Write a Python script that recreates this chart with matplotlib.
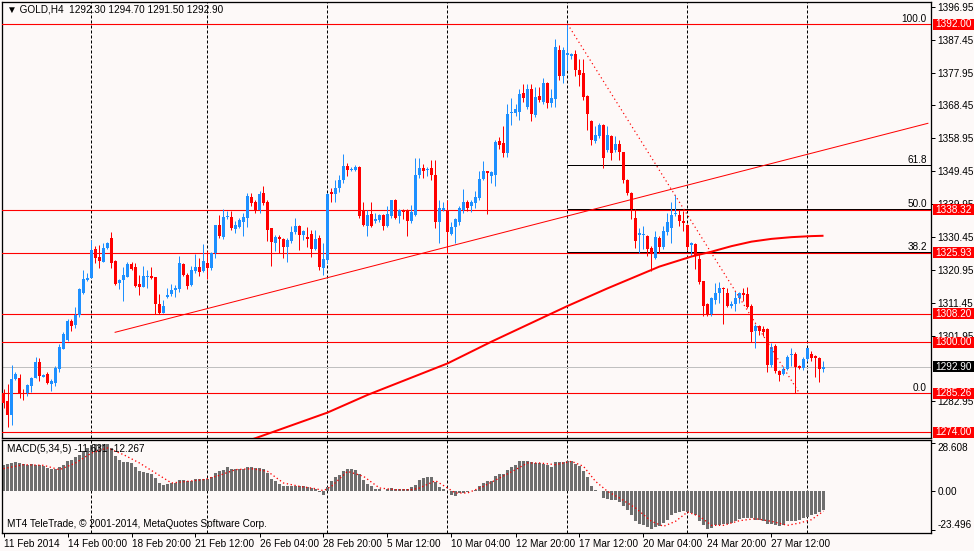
#!/usr/bin/env python3
"""GOLD H4 candles with support lines, fibo levels and MACD(5,34,5) panel (MT4 look)."""

import matplotlib

matplotlib.use("Agg")
import matplotlib.pyplot as plt
import numpy as np
from matplotlib.patches import Rectangle
from matplotlib.transforms import blended_transform_factory

plt.rcParams["font.family"] = ["Liberation Sans", "DejaVu Sans"]

# --- candles (H4 bars, oldest first) ---
opens = [
    1285.5, 1282.9, 1279.0, 1289.3, 1289.6, 1285.5, 1285.3, 1287.4, 1289.8, 1294.3,
    1290.1, 1290.9, 1288.0, 1288.3, 1292.4, 1298.2, 1300.7, 1306.2, 1305.1, 1307.9,
    1314.3, 1318.0, 1318.7, 1326.9, 1324.6, 1323.3, 1327.3, 1330.1, 1323.4, 1317.2,
    1317.9, 1318.9, 1322.6, 1321.7, 1316.8, 1316.1, 1319.0, 1319.1, 1318.9, 1311.2,
    1308.6, 1313.1, 1314.0, 1315.0, 1315.5, 1322.5, 1319.6, 1316.6, 1320.6, 1321.7,
    1320.6, 1323.0, 1321.6, 1325.9, 1333.9, 1330.5, 1336.1, 1336.3, 1332.8, 1333.4,
    1334.7, 1335.8, 1342.0, 1340.5, 1338.2, 1343.2, 1340.5, 1332.9, 1328.6, 1330.3,
    1330.0, 1327.5, 1329.2, 1331.8, 1333.7, 1331.1, 1330.4, 1331.4, 1327.0, 1330.1,
    1321.6, 1323.8, 1343.4, 1343.0, 1344.5, 1347.0, 1351.0, 1349.7, 1349.7, 1350.8,
    1338.1, 1333.7, 1337.2, 1335.0, 1335.3, 1336.9, 1333.5, 1336.6, 1341.2, 1336.4,
    1338.3, 1338.3, 1335.0, 1336.9, 1348.4, 1350.3, 1349.7, 1350.3, 1348.4, 1334.7,
    1338.2, 1338.2, 1331.4, 1333.4, 1334.7, 1338.3, 1340.7, 1339.3, 1340.3, 1341.7,
    1347.2, 1349.4, 1348.1, 1348.4, 1358.2, 1357.6, 1354.7, 1366.2, 1366.4, 1366.7,
    1372.2, 1367.9, 1373.1, 1365.7, 1371.2, 1369.6, 1375.0, 1369.3, 1370.2, 1384.4,
    1376.9, 1383.0, 1382.7, 1383.3, 1378.7, 1377.7, 1371.2, 1364.1, 1358.3, 1359.7,
    1362.9, 1355.6, 1359.7, 1355.5, 1357.4, 1354.9, 1347.0, 1343.2, 1336.0, 1330.9,
    1330.9, 1330.7, 1327.3, 1324.5, 1330.2, 1327.6, 1331.9, 1333.1, 1337.0, 1336.7,
    1335.0, 1333.8, 1328.1, 1328.3, 1324.0, 1317.8, 1311.0, 1308.2, 1312.3, 1314.2,
    1315.8, 1314.2, 1310.6, 1311.1, 1312.7, 1314.4, 1313.9, 1310.6, 1303.4, 1304.8,
    1303.8, 1303.8, 1293.5, 1298.9, 1291.6, 1290.9, 1292.3, 1296.2, 1296.7, 1293.3,
    1292.5, 1295.2, 1296.7, 1296.0, 1295.4, 1292.3,
]
highs = [
    1286.5, 1288.0, 1293.5, 1291.5, 1290.9, 1286.5, 1288.0, 1290.1, 1295.9, 1295.5,
    1290.8, 1291.4, 1289.3, 1293.3, 1299.4, 1302.9, 1306.6, 1306.7, 1310.3, 1315.6,
    1320.9, 1319.9, 1329.5, 1327.8, 1328.1, 1328.6, 1328.9, 1331.8, 1323.8, 1318.2,
    1321.8, 1323.3, 1323.1, 1323.0, 1319.4, 1322.0, 1320.9, 1321.8, 1319.0, 1314.0,
    1312.2, 1315.6, 1317.0, 1316.5, 1324.9, 1322.8, 1320.1, 1322.2, 1325.4, 1324.4,
    1328.3, 1326.3, 1326.1, 1334.0, 1336.9, 1338.5, 1338.1, 1337.9, 1335.0, 1336.0,
    1337.4, 1343.3, 1343.1, 1341.2, 1343.6, 1345.3, 1341.2, 1333.1, 1331.1, 1331.1,
    1330.2, 1330.2, 1333.7, 1336.0, 1334.0, 1332.6, 1333.4, 1332.4, 1332.6, 1331.1,
    1328.6, 1343.3, 1344.6, 1347.0, 1348.5, 1354.5, 1351.8, 1350.8, 1351.3, 1351.0,
    1340.5, 1338.3, 1340.5, 1337.4, 1337.2, 1337.2, 1339.5, 1341.2, 1341.4, 1338.5,
    1338.5, 1338.5, 1339.8, 1353.2, 1353.2, 1351.6, 1350.8, 1352.7, 1352.7, 1341.2,
    1340.5, 1341.2, 1334.7, 1336.0, 1339.5, 1344.3, 1341.0, 1341.2, 1343.6, 1349.4,
    1352.5, 1349.6, 1349.4, 1358.5, 1359.3, 1362.4, 1368.9, 1370.5, 1368.9, 1373.1,
    1374.7, 1374.7, 1374.7, 1373.9, 1373.9, 1376.3, 1375.3, 1373.1, 1387.8, 1385.9,
    1385.4, 1392.0, 1383.7, 1384.4, 1381.8, 1381.8, 1371.5, 1364.3, 1362.4, 1363.3,
    1363.1, 1362.4, 1360.0, 1359.7, 1358.5, 1355.1, 1347.2, 1343.4, 1338.4, 1333.1,
    1333.6, 1330.9, 1327.8, 1332.2, 1330.7, 1333.6, 1337.4, 1340.5, 1342.7, 1338.2,
    1337.9, 1334.1, 1329.0, 1328.6, 1325.4, 1317.8, 1311.5, 1313.0, 1317.1, 1317.3,
    1316.0, 1315.8, 1312.0, 1314.9, 1314.6, 1315.8, 1316.1, 1311.0, 1305.3, 1305.0,
    1304.8, 1304.0, 1299.8, 1299.5, 1291.9, 1293.3, 1296.2, 1298.3, 1297.1, 1293.5,
    1295.7, 1298.3, 1297.6, 1296.2, 1295.7, 1294.7,
]
lows = [
    1281.0, 1275.5, 1276.2, 1289.1, 1283.9, 1283.4, 1284.6, 1285.7, 1289.6, 1288.9,
    1289.9, 1287.9, 1285.8, 1287.5, 1291.5, 1298.0, 1300.5, 1303.4, 1304.1, 1307.4,
    1314.1, 1317.8, 1318.5, 1322.8, 1321.4, 1323.1, 1327.1, 1321.4, 1316.5, 1315.4,
    1312.0, 1318.8, 1320.9, 1316.1, 1313.7, 1315.9, 1315.6, 1318.4, 1308.1, 1308.1,
    1308.4, 1312.9, 1313.5, 1313.0, 1314.5, 1319.2, 1315.5, 1316.3, 1320.1, 1319.2,
    1320.3, 1318.2, 1321.0, 1324.4, 1330.2, 1330.0, 1335.5, 1332.6, 1331.6, 1333.1,
    1330.7, 1333.4, 1339.5, 1337.4, 1337.4, 1339.8, 1329.2, 1322.0, 1326.4, 1325.9,
    1324.4, 1323.2, 1328.7, 1331.4, 1326.6, 1329.7, 1327.6, 1324.7, 1326.6, 1320.9,
    1319.6, 1323.0, 1340.7, 1340.7, 1343.5, 1346.0, 1348.1, 1349.5, 1349.4, 1335.8,
    1333.5, 1330.7, 1333.4, 1334.5, 1334.7, 1332.4, 1333.4, 1336.0, 1335.5, 1334.5,
    1335.7, 1330.7, 1334.5, 1336.6, 1347.5, 1347.5, 1348.0, 1347.0, 1333.0, 1328.8,
    1337.9, 1325.9, 1331.0, 1328.8, 1334.0, 1337.5, 1337.9, 1337.6, 1338.8, 1341.0,
    1346.8, 1337.2, 1346.0, 1345.1, 1356.0, 1353.7, 1353.5, 1362.9, 1365.5, 1364.3,
    1369.6, 1367.5, 1364.1, 1365.0, 1369.6, 1369.0, 1367.7, 1367.9, 1367.9, 1375.8,
    1375.0, 1378.7, 1382.0, 1377.0, 1374.1, 1370.0, 1361.4, 1357.1, 1357.6, 1359.0,
    1350.4, 1355.0, 1352.8, 1355.0, 1352.6, 1346.0, 1342.5, 1335.5, 1327.4, 1325.9,
    1326.9, 1324.9, 1320.5, 1324.0, 1325.9, 1327.0, 1331.0, 1328.8, 1336.5, 1333.6,
    1332.2, 1326.7, 1325.0, 1321.3, 1316.8, 1307.7, 1307.7, 1307.7, 1311.0, 1311.5,
    1305.3, 1310.1, 1310.0, 1309.1, 1311.5, 1312.0, 1309.8, 1300.0, 1298.3, 1302.0,
    1301.9, 1291.4, 1293.0, 1291.0, 1288.7, 1290.6, 1292.0, 1293.3, 1285.26, 1292.3,
    1292.0, 1294.5, 1294.5, 1289.9, 1288.5, 1291.5,
]
closes = [
    1282.5, 1279.0, 1289.3, 1290.9, 1285.5, 1285.1, 1287.7, 1289.7, 1294.3, 1290.4,
    1290.6, 1288.2, 1288.7, 1292.7, 1298.7, 1302.4, 1306.2, 1304.8, 1307.9, 1315.4,
    1318.2, 1318.5, 1326.6, 1324.4, 1323.6, 1327.2, 1328.6, 1323.0, 1317.0, 1318.0,
    1319.4, 1322.7, 1321.2, 1316.4, 1316.1, 1319.1, 1319.1, 1318.6, 1311.0, 1308.4,
    1310.5, 1313.6, 1315.0, 1315.8, 1322.8, 1319.6, 1316.3, 1320.8, 1321.7, 1320.3,
    1323.4, 1321.5, 1325.9, 1333.8, 1330.7, 1336.2, 1336.6, 1332.9, 1334.0, 1335.3,
    1336.1, 1342.4, 1340.2, 1338.1, 1343.0, 1340.2, 1332.6, 1328.9, 1330.4, 1329.8,
    1327.5, 1329.7, 1331.8, 1333.7, 1330.9, 1332.1, 1329.9, 1327.0, 1329.9, 1321.8,
    1324.2, 1343.0, 1343.0, 1344.5, 1347.0, 1351.0, 1349.9, 1349.9, 1350.8, 1336.6,
    1334.0, 1336.9, 1333.7, 1335.7, 1336.9, 1333.7, 1337.2, 1341.0, 1336.0, 1338.2,
    1337.6, 1335.0, 1337.6, 1348.4, 1350.3, 1349.4, 1350.1, 1348.4, 1334.7, 1338.8,
    1338.8, 1331.8, 1333.4, 1335.5, 1338.8, 1340.7, 1338.8, 1340.7, 1342.0, 1347.2,
    1349.4, 1348.9, 1349.1, 1358.0, 1357.1, 1354.7, 1366.0, 1366.7, 1367.4, 1371.8,
    1370.5, 1373.1, 1366.0, 1370.8, 1370.0, 1375.0, 1369.3, 1370.5, 1385.4, 1376.9,
    1384.4, 1383.7, 1383.3, 1378.7, 1377.2, 1371.0, 1366.0, 1358.5, 1360.0, 1362.9,
    1353.3, 1360.0, 1354.7, 1357.4, 1354.9, 1346.8, 1343.2, 1338.6, 1329.3, 1331.5,
    1331.3, 1326.9, 1325.9, 1330.4, 1327.6, 1332.2, 1334.7, 1336.7, 1337.4, 1335.0,
    1334.4, 1327.6, 1328.8, 1325.1, 1317.3, 1310.6, 1307.9, 1312.7, 1314.2, 1315.8,
    1315.4, 1310.4, 1311.1, 1312.7, 1314.2, 1313.6, 1310.1, 1303.1, 1304.8, 1303.4,
    1303.1, 1293.5, 1298.6, 1291.6, 1290.6, 1292.3, 1295.7, 1296.7, 1292.8, 1292.5,
    1295.2, 1298.3, 1295.4, 1295.4, 1292.3, 1292.9,
]

# moving average (thick red), read at sample bars
ma_idx = [62, 63, 81, 91, 111, 122, 141, 151, 164, 172, 177, 182, 187, 192, 197, 202, 205]
ma_val = [1271.9, 1272.3, 1279.7, 1284.8, 1293.9, 1300.2, 1310.5, 1315.6, 1321.9,
          1324.8, 1326.2, 1327.8, 1329.1, 1329.9, 1330.4, 1330.7, 1330.8]

# MACD(5,34,5) histogram and signal line
macd_hist = [
    15.2, 16.0, 16.6, 17.2, 16.6, 16.0, 15.6, 16.0, 15.6, 15.2,
    14.6, 13.6, 13.2, 12.8, 14.0, 15.6, 17.6, 18.6, 20.0, 21.6,
    23.6, 25.6, 27.6, 28.0, 27.6, 28.0, 28.0, 25.6, 20.6, 18.6,
    17.2, 17.2, 16.6, 14.0, 11.6, 11.2, 10.6, 10.0, 7.6, 4.6,
    3.6, 4.0, 4.6, 4.6, 6.6, 6.6, 6.0, 6.0, 7.2, 7.2,
    7.2, 7.2, 8.0, 10.6, 11.6, 12.6, 14.0, 13.2, 13.2, 13.2,
    13.2, 14.0, 14.0, 13.6, 13.6, 13.2, 10.6, 7.2, 5.6, 4.0,
    2.6, 2.6, 2.6, 2.6, 2.6, 2.6, 2.0, 1.6, 1.2, -0.8,
    -2.4, 2.0, 6.0, 8.0, 9.6, 11.6, 13.2, 13.2, 12.6, 10.0,
    6.6, 4.0, 2.6, 1.2, 1.2, -0.4, 1.2, 1.6, 1.2, 1.2,
    1.2, 1.2, 2.0, 3.6, 6.6, 7.6, 8.0, 8.0, 5.2, 2.0,
    1.2, 0.0, -2.8, -3.4, -1.6, -1.2, -1.0, -0.4, 0.6, 2.6,
    4.6, 5.6, 6.0, 8.6, 10.0, 10.0, 12.6, 14.0, 15.6, 17.6,
    18.0, 18.0, 17.2, 16.6, 16.6, 16.0, 15.6, 14.0, 17.2, 17.2,
    17.2, 17.6, 17.6, 16.0, 14.6, 11.6, 8.0, 2.6, 0.2, -0.4,
    -4.4, -4.8, -5.4, -5.4, -6.8, -9.4, -11.4, -14.8, -18.4, -20.0,
    -20.8, -22.0, -22.8, -22.0, -21.4, -19.4, -17.4, -14.8, -13.4, -12.8,
    -12.4, -12.8, -13.4, -14.8, -18.0, -20.8, -22.8, -22.4, -20.8, -20.4,
    -20.0, -20.0, -19.4, -18.4, -16.8, -16.4, -16.4, -16.4, -17.4, -17.4,
    -18.0, -20.0, -20.0, -20.8, -21.4, -20.8, -18.4, -18.0, -18.0, -17.4,
    -16.4, -16.0, -14.8, -14.0, -12.6, -11.6,
]
signal_idx = [0, 5, 10, 14, 18, 22, 26, 30, 34, 38, 42, 46, 50, 54, 58, 62, 66, 70,
              74, 78, 80, 82, 86, 90, 94, 98, 102, 104, 108, 111, 113, 116, 120, 124,
              128, 131, 134, 138, 142, 145, 148, 151, 154, 158, 162, 165, 168, 171,
              174, 177, 180, 184, 188, 192, 196, 199, 202, 205]
signal_val = [13.2, 15.6, 15.2, 12.6, 16.6, 22.6, 25.6, 21.6, 16.6, 10.6, 4.6, 5.6,
              6.6, 9.2, 12.6, 13.2, 11.6, 4.6, 2.6, 1.2, 0.0, 2.6, 11.6, 8.6, 1.6, 0.6,
              0.6, 1.6, 6.0, 1.6, -1.4, -1.4, 2.6, 7.6, 12.6, 16.6, 16.6, 15.6, 17.6,
              14.6, 5.6, -0.4, -4.4, -10.4, -18.4, -21.4, -18.4, -12.8, -15.4, -20.8,
              -20.8, -18.0, -16.8, -18.4, -20.8, -19.4, -17.4, -12.3]

# horizontal levels, fibo and trend lines
red_levels = [1392.00, 1338.32, 1325.93, 1308.20, 1300.00, 1285.26, 1274.00]
last_price = 1292.90
fib_low, fib_high = 1285.26, 1392.00
fib_pcts = [0.0, 38.2, 50.0, 61.8, 100.0]
fib_start_bar, fib_end_bar = 141, 199
trend_bars = [27.9, 231.1]
trend_prices = [1302.9, 1363.3]
week_bars = [22, 51, 81, 111, 141, 171, 201]

time_bars = [0, 16, 32, 48, 64, 80, 96, 112, 128, 144, 160, 176, 192]
time_labels = ["11 Feb 2014", "14 Feb 00:00", "18 Feb 20:00", "21 Feb 12:00",
               "26 Feb 04:00", "28 Feb 20:00", "5 Mar 12:00", "10 Mar 04:00",
               "12 Mar 20:00", "17 Mar 12:00", "20 Mar 04:00", "24 Mar 20:00",
               "27 Mar 12:00"]
# scale labels visible on the right (1292.45 and 1273.45 sit under price boxes)
price_ticks = [1396.95, 1387.45, 1377.95, 1368.45, 1358.95, 1349.45, 1339.95,
               1330.45, 1320.95, 1311.45, 1301.95, 1282.95]
macd_ticks = [28.608, 0.0, -23.496]
macd_tick_labels = ["28.608", "0.00", "-23.496"]

BG = "#fdf9f8"
BULL = "#1e90ff"
BEAR = "#ff0000"
HIST = "#6e6e6e"
PX = 0.72  # one pixel in points at dpi 100
FS = 7.2
W, H = 974, 551


def px_rect(x0, y0, x1, y1):
    return [x0 / W, 1 - y1 / H, (x1 - x0) / W, (y1 - y0) / H]


fig = plt.figure(figsize=(W / 100, H / 100), dpi=100, facecolor=BG)
ax = fig.add_axes(px_rect(2, 2, 931, 438), facecolor=BG)
ax2 = fig.add_axes(px_rect(2, 440, 931, 533), facecolor=BG)

xlim = (-0.375, 231.875)
for a in (ax, ax2):
    a.set_xlim(*xlim)
    for s in a.spines.values():
        s.set_linewidth(PX * 1.3)
        s.set_color("black")
    for b in week_bars:
        a.axvline(b, color="black", ls=(0, (3, 2)), lw=PX, zorder=1)

# ---- main price panel ----
ax.set_ylim(1272.35, 1398.36)
idx = np.arange(len(closes))
o, h, l, c = (np.asarray(v, dtype=float) for v in (opens, highs, lows, closes))
colors = np.where(c >= o, BULL, BEAR)

ax.axhline(last_price, color="#c0c0c0", lw=PX, zorder=1.5)
fib_prices = [fib_low + p / 100 * (fib_high - fib_low) for p in fib_pcts]
ax.hlines(fib_prices, fib_start_bar, xlim[1], color="black", lw=PX, zorder=2)
for lvl in red_levels:
    ax.axhline(lvl, color="red", lw=PX * 1.1, zorder=3)

ax.vlines(idx, l, h, colors=colors, lw=PX, zorder=4)
ax.bar(idx, np.maximum(np.abs(c - o), 0.3), bottom=np.minimum(o, c), width=0.75,
       color=colors, lw=0, zorder=5)

ax.plot(ma_idx, ma_val, color="red", lw=PX * 2.0, zorder=6, solid_capstyle="butt")
ax.plot(trend_bars, trend_prices, color="red", lw=PX, zorder=6)
ax.plot([fib_start_bar, fib_end_bar], [fib_high, fib_low], color="red",
        ls=(0, (1, 2.5)), lw=PX * 1.2, zorder=6)

yt = blended_transform_factory(ax.transAxes, ax.transData)
for pct, price in zip(fib_pcts, fib_prices):
    ax.text(0.9957, price + 0.55, f"{pct:.1f}", transform=yt, ha="right",
            va="baseline", fontsize=FS, zorder=7)

ax.set_xticks([])
ax.yaxis.tick_right()
ax.set_yticks(price_ticks)
ax.set_yticklabels([f"{t:.2f}" for t in price_ticks])
ax.tick_params(axis="y", direction="out", length=3, width=PX, pad=1.5,
               labelsize=FS, colors="black")

ax.text(5 / 929, 1 - 7.5 / 436, "\u25bc GOLD,H4  1292.30 1294.70 1291.50 1292.90",
        transform=ax.transAxes, ha="left", va="center", fontsize=FS, zorder=8)

# price boxes on the right scale
ft = blended_transform_factory(fig.transFigure, ax.transData)
box_h = 11 / 3.46
for price, fc in [(p, "red") for p in red_levels] + [(last_price, "black")]:
    ax.add_patch(Rectangle((932.5 / W, price - box_h / 2), 41.5 / W, box_h,
                           transform=ft, fc=fc, ec="none", clip_on=False, zorder=10))
    ax.text(935 / W, price, f"{price:.2f}", transform=ft, color="white", ha="left",
            va="center", fontsize=FS, zorder=11, clip_on=False)

# ---- MACD panel ----
ax2.set_ylim(-25.4, 30.4)
ax2.bar(idx, macd_hist, width=0.75, color=HIST, lw=0, zorder=2)
ax2.plot(signal_idx, signal_val, color="red", ls=(0, (1, 2)), lw=PX * 1.3, zorder=3)
ax2.yaxis.tick_right()
ax2.set_yticks(macd_ticks)
ax2.set_yticklabels(macd_tick_labels)
ax2.tick_params(axis="y", direction="out", length=3, width=PX, pad=1.5,
                labelsize=FS, colors="black")
ylabs = ax2.get_yticklabels()
ylabs[0].set_va("top")
ylabs[2].set_va("bottom")

ax2.set_xticks(time_bars)
ax2.set_xticklabels(time_labels)
ax2.tick_params(axis="x", direction="out", length=3, width=PX, pad=1.5,
                labelsize=FS, colors="black")
for lab in ax2.get_xticklabels():
    lab.set_ha("left")

ax2.text(5 / 929, (533 - 449) / 93, "MACD(5,34,5) -11.631 -12.267",
         transform=ax2.transAxes, ha="left", va="center", fontsize=FS, zorder=8)
ax2.text(5 / 929, (533 - 524) / 93,
         "MT4 TeleTrade, \u00a9 2001-2014, MetaQuotes Software Corp.",
         transform=ax2.transAxes, ha="left", va="center", fontsize=FS, zorder=8)

fig.savefig("out.png", dpi=100, facecolor=BG)
plt.close(fig)
